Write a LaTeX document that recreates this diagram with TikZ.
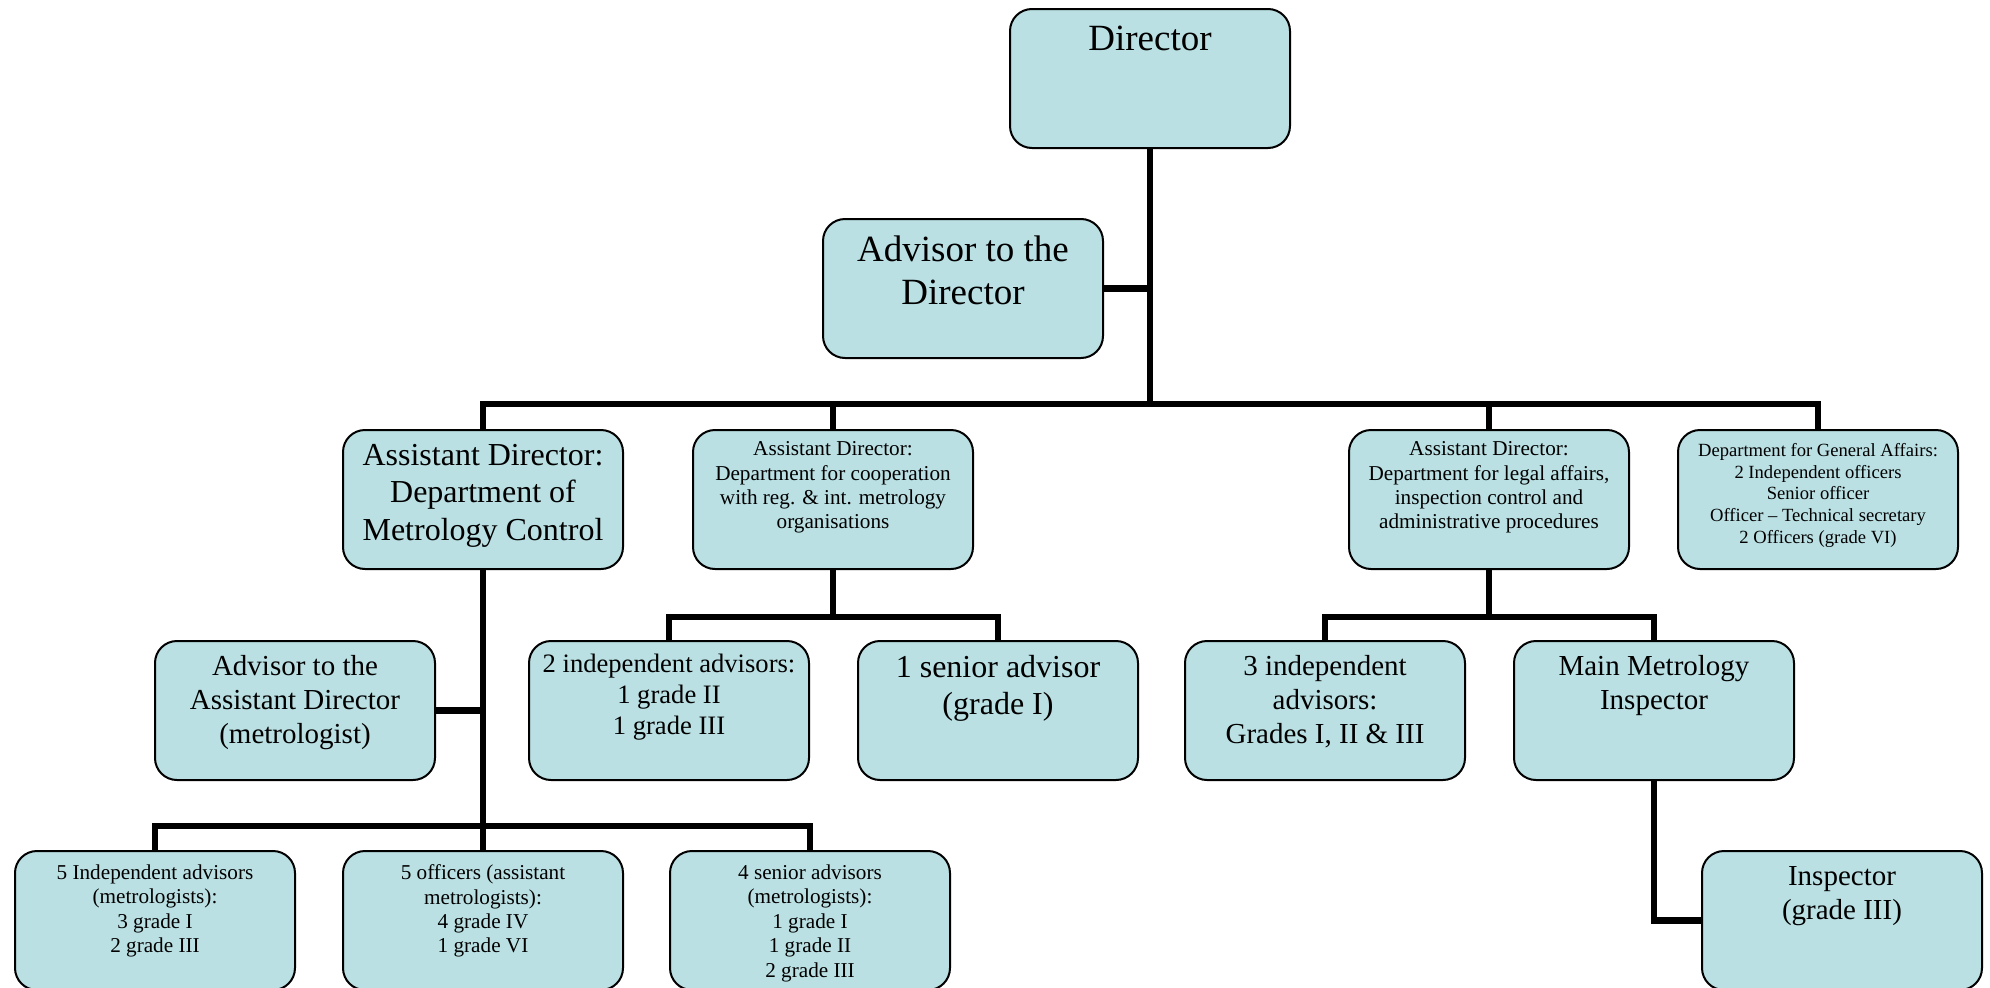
\documentclass[tikz,border=0pt]{standalone}
\usepackage{fontspec}
\setmainfont{Liberation Serif}
\definecolor{boxfill}{RGB}{186,224,227}
\pgfdeclarelayer{background}
\pgfsetlayers{background,main}
\newcommand\FontA{\fontsize{37}{43}\selectfont}
\newcommand\FontB{\fontsize{32}{37.5}\selectfont}
\newcommand\FontC{\fontsize{29}{34}\selectfont}
\newcommand\FontD{\fontsize{26.6}{31}\selectfont}
\newcommand\FontE{\fontsize{21.2}{24.4}\selectfont}
\newcommand\FontF{\fontsize{18.6}{21.7}\selectfont}
\tikzset{
  orgbox/.style={draw=black, line width=2pt, fill=boxfill, rounded corners=22pt,
    minimum width=280pt, minimum height=139pt, inner sep=0pt, anchor=north},
  boxtext/.style={anchor=north, inner sep=0pt, align=center, text=black},
  conn/.style={line width=6.5pt, line cap=rect, draw=black}
}
\begin{document}
\begin{tikzpicture}[x=1pt,y=-1pt]
\useasboundingbox (0,0) rectangle (1990,988);
% boxes
\node[orgbox] (dir)   at (1150,8)   {};
\node[orgbox] (advd)  at (963,218)  {};
\node[orgbox] (adm)   at (483,429)  {};
\node[orgbox] (adc)   at (833,429)  {};
\node[orgbox] (adl)   at (1489,429) {};
\node[orgbox] (gen)   at (1818,429) {};
\node[orgbox] (advad) at (295,640)  {};
\node[orgbox] (ind2)  at (669,640)  {};
\node[orgbox] (sen1)  at (998,640)  {};
\node[orgbox] (ind3)  at (1325,640) {};
\node[orgbox] (mmi)   at (1654,640) {};
\node[orgbox] (ind5)  at (155,850)  {};
\node[orgbox] (off5)  at (483,850)  {};
\node[orgbox] (sen4)  at (810,850)  {};
\node[orgbox] (insp)  at (1842,850) {};
% texts
\node[boxtext, font=\FontA] (tdir)   at ([yshift=-17.5pt]dir.north)   {Director};
\node[boxtext, font=\FontA] (tadvd)  at ([yshift=-17.5pt]advd.north)  {Advisor to the\\Director};
\node[boxtext, font=\FontB] (tadm)   at ([yshift=-15pt]adm.north)     {Assistant Director:\\Department of\\Metrology Control};
\node[boxtext, font=\FontE] (tadc)   at ([yshift=-12.5pt]adc.north)   {Assistant Director:\\Department for cooperation\\with reg. \& int. metrology\\organisations};
\node[boxtext, font=\FontE] (tadl)   at ([yshift=-12.5pt]adl.north)   {Assistant Director:\\Department for legal affairs,\\inspection control and\\administrative procedures};
\node[boxtext, font=\FontF] (tgen)   at ([yshift=-14pt]gen.north)     {Department for General Affairs:\\2 Independent officers\\Senior officer\\Officer -- Technical secretary\\2 Officers (grade VI)};
\node[boxtext, font=\FontC] (tadvad) at ([yshift=-15pt]advad.north)   {Advisor to the\\Assistant Director\\(metrologist)};
\node[boxtext, font=\FontD] (tind2)  at ([yshift=-13.5pt]ind2.north)  {2 independent advisors:\\1 grade II\\1 grade III};
\node[boxtext, font=\FontB] (tsen1)  at ([yshift=-15pt]sen1.north)    {1 senior advisor\\(grade I)};
\node[boxtext, font=\FontC] (tind3)  at ([yshift=-15pt]ind3.north)    {3 independent\\advisors:\\Grades I, II \& III};
\node[boxtext, font=\FontC] (tmmi)   at ([yshift=-15pt]mmi.north)     {Main Metrology\\Inspector};
\node[boxtext, font=\FontE] (tind5)  at ([yshift=-14.5pt]ind5.north)  {5 Independent advisors\\(metrologists):\\3 grade I\\2 grade III};
\node[boxtext, font=\FontE] (toff5)  at ([yshift=-14.5pt]off5.north)  {5 officers (assistant\\metrologists):\\4 grade IV\\1 grade VI};
\node[boxtext, font=\FontE] (tsen4)  at ([yshift=-14.5pt]sen4.north)  {4 senior advisors\\(metrologists):\\1 grade I\\1 grade II\\2 grade III};
\node[boxtext, font=\FontC] (tinsp)  at ([yshift=-16.5pt]insp.north)  {Inspector\\(grade III)};
% connectors
\coordinate (b2) at (1150,404);
\coordinate (b3a) at (833,617);
\coordinate (b3b) at (1489,617);
\coordinate (b4) at (483,826);
\begin{pgfonlayer}{background}
\draw[conn] (dir.south) -- (b2);
\draw[conn] (advd.east) -- (advd.east -| dir.south);
\draw[conn] (adm.north) -- (adm.north |- b2) -- (gen.north |- b2) -- (gen.north);
\draw[conn] (adc.north) -- (adc.north |- b2);
\draw[conn] (adl.north) -- (adl.north |- b2);
\draw[conn] (adm.south) -- (b4);
\draw[conn] (advad.east) -- (advad.east -| adm.south);
\draw[conn] (ind5.north) -- (ind5.north |- b4) -- (sen4.north |- b4) -- (sen4.north);
\draw[conn] (off5.north) -- (b4);
\draw[conn] (adc.south) -- (b3a);
\draw[conn] (ind2.north) -- (ind2.north |- b3a) -- (sen1.north |- b3a) -- (sen1.north);
\draw[conn] (adl.south) -- (b3b);
\draw[conn] (ind3.north) -- (ind3.north |- b3b) -- (mmi.north |- b3b) -- (mmi.north);
\draw[conn] (mmi.south) |- (insp.west);
\end{pgfonlayer}
\end{tikzpicture}
\end{document}
